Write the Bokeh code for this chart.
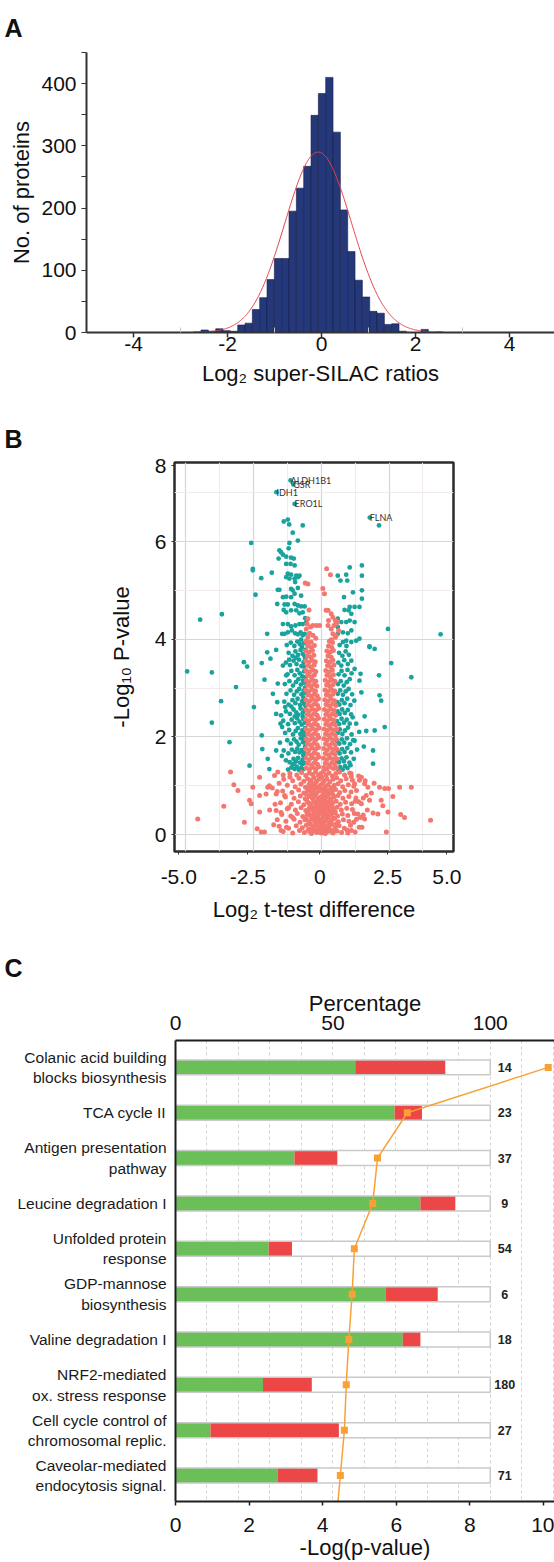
import math
import numpy as np
from bokeh.plotting import figure
from bokeh.models import Range1d, FixedTicker, LinearAxis, Label
from bokeh.embed import file_html
from bokeh.resources import INLINE
from bokeh.core.properties import value

FONT = "Liberation Sans"

# ---------------- Panel A: histogram ----------------
hist_centers = [-2.641, -2.485, -2.329, -2.173, -2.017, -1.861, -1.705, -1.549, -1.393, -1.237,
                -1.081, -0.925, -0.769, -0.613, -0.457, -0.301, -0.145, 0.011, 0.167, 0.323,
                0.479, 0.635, 0.791, 0.947, 1.103, 1.259, 1.415, 1.571, 1.727, 1.883,
                2.039, 2.195, 2.351, 2.507]
hist_counts = [1, 4, 2, 6, 3, 2, 12, 15, 37, 56,
               85, 119, 119, 195, 232, 267, 349, 384, 410, 322,
               197, 130, 84, 57, 34, 31, 13, 14, 2, 0,
               0, 5, 0, 1]
hist_bin_width = 0.156
fit_mean = -0.07
fit_sd = 0.71
fit_peak = 290

# ---------------- Panel B: volcano ----------------
teal_points = [
    (-1.13, 7.25), (-1.03, 7.17), (-1.65, 7.01), (-0.98, 6.77), (1.79, 6.49), (2.13, 6.33),
    (-1.38, 6.41), (-1.23, 6.45), (-1.18, 6.35), (-1.05, 6.18), (-0.68, 6.33), (-0.86, 6.02),
    (-2.58, 5.97), (-1.17, 5.97), (-1.54, 5.82), (-1.48, 5.78), (-1.20, 5.86), (-1.41, 5.73),
    (-1.29, 5.69), (-1.57, 5.65), (-1.11, 5.67), (-1.01, 5.65), (-1.13, 5.54), (-0.98, 5.51),
    (-1.29, 5.54), (-1.82, 5.36), (-2.52, 5.44), (-2.52, 5.41), (-2.21, 5.25), (-1.23, 5.34),
    (-1.11, 5.32), (-0.92, 5.30), (-0.80, 5.30), (-0.86, 5.27), (-0.98, 5.24), (-1.17, 5.24),
    (-1.29, 5.27), (-0.96, 5.17), (-1.60, 5.01), (-1.54, 5.01), (-1.11, 5.03), (-1.05, 5.00),
    (-0.86, 5.05), (-2.42, 4.91), (-1.41, 4.86), (-1.29, 4.87), (-1.11, 4.86), (-0.98, 4.93),
    (-0.74, 4.89), (-1.62, 4.72), (-1.35, 4.71), (-1.23, 4.71), (-0.98, 4.72), (-0.86, 4.69),
    (-0.74, 4.67), (-0.61, 4.67), (-1.38, 4.60), (-1.29, 4.55), (-1.11, 4.59), (-0.92, 4.59),
    (-0.80, 4.53), (-0.68, 4.55), (-0.59, 4.43), (-1.41, 4.31), (-1.23, 4.31), (-1.11, 4.26),
    (-0.95, 4.28), (-0.80, 4.31), (-0.68, 4.31), (-0.55, 4.35), (-1.44, 4.11), (-1.35, 4.11),
    (-1.23, 4.14), (-1.08, 4.18), (-0.96, 4.12), (-0.86, 4.10), (-0.76, 4.14), (-0.68, 4.08),
    (-0.61, 4.11), (-1.99, 4.11), (-4.46, 4.40), (-3.66, 4.51),
    (1.05, 5.47), (1.50, 5.51), (0.61, 5.30), (0.71, 5.20), (0.92, 5.32), (0.96, 5.20),
    (1.50, 5.30), (0.84, 4.86), (1.17, 4.96), (1.50, 5.00), (1.50, 4.83), (1.05, 4.66),
    (1.23, 4.66), (1.41, 4.66), (0.86, 4.60), (1.01, 4.59), (1.11, 4.52), (0.61, 4.42),
    (0.74, 4.35), (0.92, 4.35), (1.05, 4.38), (1.23, 4.35), (0.61, 4.25), (0.80, 4.14),
    (0.98, 4.12), (1.11, 4.18), (0.61, 4.11), (0.92, 3.97), (1.11, 3.94), (1.29, 3.97),
    (1.41, 4.01), (2.46, 4.21), (1.78, 3.84), (4.40, 4.10),
    (-4.94, 3.34), (-4.03, 3.32), (-3.69, 2.73), (-4.03, 2.29), (-3.38, 1.89), (-3.14, 3.02),
    (-2.85, 3.53), (-2.73, 3.44), (-2.48, 2.61), (-2.19, 3.51), (-2.09, 3.17), (-1.99, 3.73),
    (-1.87, 3.60), (-1.66, 3.78), (-2.64, 1.41), (-2.19, 2.03), (-2.17, 1.75), (-1.97, 1.55),
    (-1.66, 1.72), (-1.91, 1.34), (-1.60, 3.09), (-1.78, 2.88), (-1.62, 2.71), (-1.66, 2.47),
    (-1.50, 2.27), (-1.33, 2.61), (-1.29, 3.26), (-1.41, 3.46),
    (1.78, 3.85), (1.97, 3.80), (2.58, 3.51), (2.13, 3.26), (3.32, 3.22), (2.15, 2.85),
    (2.21, 2.74), (1.60, 2.42), (2.34, 2.20), (1.66, 2.12), (1.97, 2.13), (1.57, 1.80),
    (1.91, 1.72), (1.91, 1.45), (1.23, 1.92), (1.29, 2.27), (1.48, 2.91), (1.41, 3.15),
    (1.45, 3.29), (1.23, 3.39), (1.11, 3.56),
    (-1.22, 1.33), (-1.10, 1.37), (-0.98, 1.34), (-0.90, 1.39), (-0.82, 1.32), (-0.74, 1.36),
    (-0.66, 1.34), (-1.05, 1.43), (-0.70, 1.44), (-1.30, 1.52), (-1.16, 1.48), (-1.02, 1.55),
    (-0.93, 1.50), (-0.85, 1.57), (-0.78, 1.47), (-0.69, 1.53), (-0.62, 1.58), (-1.45, 1.61),
    (-1.38, 1.72), (-1.21, 1.66), (-1.08, 1.74), (-0.96, 1.69), (-0.88, 1.76), (-0.80, 1.68),
    (-0.72, 1.73), (-0.64, 1.67), (-0.60, 1.79), (-1.52, 1.88), (-1.25, 1.93), (-1.12, 1.86),
    (-1.00, 1.95), (-0.91, 1.90), (-0.83, 1.84), (-0.75, 1.97), (-0.67, 1.89), (-0.61, 1.94),
    (-1.33, 2.08), (-1.18, 2.14), (-1.04, 2.05), (-0.94, 2.12), (-0.86, 2.18), (-0.77, 2.06),
    (-0.70, 2.13), (-0.63, 2.09), (-1.44, 2.20), (-1.40, 2.33), (-1.22, 2.26), (-1.09, 2.35),
    (-0.97, 2.28), (-0.89, 2.38), (-0.80, 2.31), (-0.72, 2.25), (-0.65, 2.36), (-0.60, 2.29),
    (-1.30, 2.52), (-1.15, 2.47), (-1.02, 2.56), (-0.92, 2.50), (-0.84, 2.45), (-0.76, 2.58),
    (-0.68, 2.49), (-0.61, 2.54), (-1.48, 2.44), (-1.36, 2.72), (-1.20, 2.66), (-1.06, 2.75),
    (-0.95, 2.69), (-0.87, 2.78), (-0.78, 2.65), (-0.70, 2.73), (-0.63, 2.68), (-1.28, 2.88),
    (-1.13, 2.95), (-1.00, 2.86), (-0.90, 2.93), (-0.81, 2.98), (-0.73, 2.87), (-0.65, 2.94),
    (-0.59, 2.90), (-1.34, 3.08), (-1.17, 3.14), (-1.04, 3.05), (-0.93, 3.12), (-0.84, 3.18),
    (-0.75, 3.07), (-0.67, 3.15), (-0.60, 3.10), (-1.24, 3.28), (-1.10, 3.35), (-0.98, 3.26),
    (-0.88, 3.37), (-0.79, 3.30), (-0.70, 3.24), (-0.63, 3.34), (-1.30, 3.52), (-1.15, 3.47),
    (-1.02, 3.56), (-0.91, 3.49), (-0.82, 3.58), (-0.73, 3.45), (-0.65, 3.53), (-0.59, 3.60),
    (-1.20, 3.72), (-1.06, 3.66), (-0.95, 3.75), (-0.85, 3.68), (-0.76, 3.78), (-0.68, 3.70),
    (-0.61, 3.65), (-1.27, 3.88), (-1.12, 3.93), (-0.99, 3.86), (-0.88, 3.95), (-0.79, 3.90),
    (-0.71, 3.84), (-0.63, 3.92),
    (-0.62, 1.46), (-0.66, 1.62), (-0.58, 1.86), (-0.63, 2.02), (-0.59, 2.18), (-0.68, 2.41),
    (-0.58, 2.63), (-0.66, 2.81), (-0.60, 3.00), (-0.57, 3.22), (-0.64, 3.44), (-0.58, 3.78),
    (-0.74, 3.99), (-1.00, 1.45), (-0.97, 2.42), (-1.10, 2.62), (-0.93, 3.62), (-1.18, 3.58),
    (0.62, 1.34), (0.70, 1.38), (0.79, 1.33), (0.88, 1.40), (0.97, 1.36), (1.08, 1.42),
    (0.58, 1.52), (0.66, 1.48), (0.75, 1.56), (0.84, 1.50), (0.93, 1.58), (1.04, 1.47),
    (1.20, 1.55), (0.60, 1.72), (0.68, 1.66), (0.77, 1.75), (0.86, 1.69), (0.96, 1.77),
    (1.10, 1.68), (1.32, 1.74), (0.59, 1.91), (0.67, 1.86), (0.76, 1.95), (0.85, 1.88),
    (0.95, 1.97), (1.06, 1.85), (1.18, 1.93), (0.61, 2.08), (0.69, 2.15), (0.78, 2.06),
    (0.88, 2.13), (0.99, 2.19), (1.12, 2.05), (1.40, 2.10), (0.58, 2.32), (0.66, 2.26),
    (0.75, 2.37), (0.84, 2.29), (0.94, 2.35), (1.05, 2.27), (1.16, 2.40), (0.60, 2.52),
    (0.68, 2.47), (0.77, 2.56), (0.87, 2.49), (0.98, 2.55), (1.10, 2.46), (0.59, 2.71),
    (0.67, 2.66), (0.76, 2.75), (0.86, 2.69), (0.96, 2.78), (1.08, 2.65), (1.22, 2.74),
    (0.61, 2.88), (0.70, 2.95), (0.80, 2.86), (0.90, 2.93), (1.01, 2.98), (1.14, 2.87),
    (0.62, 3.08), (0.72, 3.14), (0.83, 3.05), (0.94, 3.12), (1.05, 3.18), (0.64, 3.28),
    (0.75, 3.35), (0.86, 3.26), (0.97, 3.37), (1.12, 3.30), (0.63, 3.52), (0.74, 3.46),
    (0.85, 3.57), (0.98, 3.49), (0.66, 3.72), (0.78, 3.66), (0.90, 3.75), (1.02, 3.68),
    (0.68, 3.88), (0.80, 3.94), (0.93, 3.86),
]

salmon_points = [
    (0.20, 5.44), (0.34, 5.32), (-0.59, 5.15), (-0.49, 5.13), (0.06, 5.04), (0.12, 4.93),
    (0.25, 4.59), (0.37, 4.52), (0.43, 4.45), (0.52, 4.38), (0.47, 4.28), (0.25, 4.28),
    (0.37, 4.21), (0.55, 4.31), (-0.49, 4.42), (-0.52, 4.31), (-0.55, 4.21), (-0.39, 4.25),
    (-0.31, 4.28), (-0.18, 4.28), (-0.06, 4.28), (-0.43, 4.12), (-0.31, 4.08), (-0.49, 4.04),
    (0.43, 4.11), (0.52, 4.04), (0.37, 3.99), (-0.55, 3.97), (-0.37, 3.94), (0.18, 4.59),
    (0.27, 4.38), (0.59, 4.35), (0.64, 4.18), (0.55, 4.07), (-0.20, 4.02), (-0.45, 4.60),
    (-0.55, 1.36), (-0.43, 1.33), (-0.31, 1.37), (-0.19, 1.34), (-0.09, 1.38),
    (-0.50, 1.46), (-0.37, 1.43), (-0.25, 1.47), (-0.14, 1.44),
    (-0.56, 1.56), (-0.44, 1.53), (-0.32, 1.57), (-0.20, 1.54), (-0.09, 1.58),
    (-0.49, 1.66), (-0.38, 1.63), (-0.26, 1.67), (-0.13, 1.64),
    (-0.57, 1.76), (-0.45, 1.73), (-0.33, 1.77), (-0.21, 1.74), (-0.10, 1.78),
    (-0.51, 1.86), (-0.39, 1.83), (-0.27, 1.87), (-0.15, 1.84),
    (-0.55, 1.96), (-0.44, 1.93), (-0.32, 1.97), (-0.20, 1.94), (-0.09, 1.98),
    (-0.50, 2.06), (-0.37, 2.03), (-0.25, 2.07), (-0.13, 2.04),
    (-0.56, 2.16), (-0.43, 2.13), (-0.31, 2.17), (-0.19, 2.14), (-0.08, 2.18),
    (-0.49, 2.26), (-0.38, 2.23), (-0.26, 2.27), (-0.14, 2.24),
    (-0.57, 2.36), (-0.45, 2.33), (-0.33, 2.37), (-0.21, 2.34), (-0.10, 2.38),
    (-0.51, 2.46), (-0.39, 2.43), (-0.27, 2.47), (-0.15, 2.44),
    (-0.55, 2.56), (-0.44, 2.53), (-0.32, 2.57), (-0.20, 2.54), (-0.09, 2.58),
    (-0.50, 2.66), (-0.37, 2.63), (-0.25, 2.67), (-0.13, 2.64),
    (-0.56, 2.76), (-0.43, 2.73), (-0.31, 2.77), (-0.19, 2.74), (-0.10, 2.78),
    (-0.49, 2.86), (-0.38, 2.83), (-0.26, 2.87), (-0.15, 2.84),
    (-0.57, 2.96), (-0.45, 2.93), (-0.33, 2.97), (-0.21, 2.94),
    (-0.51, 3.06), (-0.39, 3.03), (-0.27, 3.07), (-0.16, 3.04),
    (-0.55, 3.16), (-0.44, 3.13), (-0.32, 3.17), (-0.20, 3.14),
    (-0.50, 3.26), (-0.37, 3.23), (-0.25, 3.27),
    (-0.56, 3.36), (-0.43, 3.33), (-0.31, 3.37), (-0.20, 3.34),
    (-0.49, 3.46), (-0.38, 3.43), (-0.26, 3.47),
    (-0.57, 3.56), (-0.45, 3.53), (-0.33, 3.57), (-0.22, 3.54),
    (-0.51, 3.66), (-0.39, 3.63), (-0.27, 3.67),
    (-0.55, 3.76), (-0.44, 3.73), (-0.32, 3.77),
    (-0.50, 3.86), (-0.37, 3.83), (-0.25, 3.87),
    (-0.56, 3.96), (-0.43, 3.93),
    (0.10, 1.37), (0.21, 1.34), (0.33, 1.38), (0.45, 1.35), (0.56, 1.36),
    (0.15, 1.46), (0.27, 1.43), (0.39, 1.47), (0.51, 1.44),
    (0.09, 1.56), (0.21, 1.53), (0.33, 1.57), (0.45, 1.54), (0.57, 1.55),
    (0.15, 1.66), (0.27, 1.63), (0.39, 1.67), (0.51, 1.64),
    (0.10, 1.76), (0.22, 1.73), (0.34, 1.77), (0.46, 1.74), (0.57, 1.75),
    (0.16, 1.86), (0.28, 1.83), (0.40, 1.87), (0.52, 1.84),
    (0.11, 1.96), (0.22, 1.93), (0.34, 1.97), (0.46, 1.94), (0.56, 1.95),
    (0.16, 2.06), (0.28, 2.03), (0.40, 2.07), (0.52, 2.04),
    (0.11, 2.16), (0.23, 2.13), (0.35, 2.17), (0.47, 2.14), (0.57, 2.15),
    (0.17, 2.26), (0.29, 2.23), (0.41, 2.27), (0.53, 2.24),
    (0.12, 2.36), (0.23, 2.33), (0.35, 2.37), (0.47, 2.34),
    (0.17, 2.46), (0.29, 2.43), (0.41, 2.47), (0.53, 2.44),
    (0.12, 2.56), (0.24, 2.53), (0.36, 2.57), (0.48, 2.54),
    (0.18, 2.66), (0.30, 2.63), (0.42, 2.67), (0.54, 2.64),
    (0.13, 2.76), (0.25, 2.73), (0.37, 2.77), (0.49, 2.74),
    (0.19, 2.86), (0.31, 2.83), (0.43, 2.87),
    (0.14, 2.96), (0.26, 2.93), (0.38, 2.97), (0.50, 2.94),
    (0.20, 3.06), (0.32, 3.03), (0.44, 3.07),
    (0.15, 3.16), (0.27, 3.13), (0.39, 3.17), (0.51, 3.14),
    (0.21, 3.26), (0.33, 3.23), (0.45, 3.27),
    (0.17, 3.36), (0.29, 3.33), (0.41, 3.37),
    (0.23, 3.46), (0.35, 3.43), (0.47, 3.47),
    (0.19, 3.56), (0.31, 3.53), (0.43, 3.57),
    (0.25, 3.66), (0.37, 3.63),
    (0.21, 3.76), (0.33, 3.73), (0.45, 3.77),
    (0.27, 3.86), (0.39, 3.83),
    (0.30, 3.96), (0.42, 3.93),
    (-1.40, 0.06), (-1.05, 0.03), (-0.80, 0.08), (-0.62, 0.04), (-0.48, 0.09), (-0.36, 0.02),
    (-0.25, 0.07), (-0.16, 0.04), (-0.08, 0.10), (0.00, 0.03), (0.07, 0.08), (0.15, 0.02),
    (0.24, 0.06), (0.33, 0.09), (0.44, 0.03), (0.58, 0.07), (0.75, 0.04), (0.95, 0.09), (1.25, 0.05),
    (-1.55, 0.17), (-1.20, 0.13), (-0.92, 0.18), (-0.70, 0.14), (-0.55, 0.19), (-0.42, 0.12),
    (-0.31, 0.16), (-0.21, 0.20), (-0.12, 0.13), (-0.04, 0.17), (0.04, 0.14), (0.12, 0.19),
    (0.20, 0.12), (0.29, 0.17), (0.39, 0.21), (0.51, 0.14), (0.66, 0.18), (0.85, 0.13),
    (1.08, 0.19), (1.40, 0.15),
    (-1.30, 0.27), (-1.00, 0.31), (-0.78, 0.25), (-0.60, 0.30), (-0.46, 0.26), (-0.35, 0.32),
    (-0.24, 0.27), (-0.14, 0.29), (-0.05, 0.25), (0.03, 0.31), (0.11, 0.26), (0.19, 0.30),
    (0.28, 0.24), (0.38, 0.29), (0.49, 0.33), (0.63, 0.26), (0.82, 0.30), (1.02, 0.27), (1.30, 0.31),
    (-1.45, 0.41), (-1.12, 0.38), (-0.88, 0.43), (-0.68, 0.37), (-0.52, 0.42), (-0.40, 0.39),
    (-0.28, 0.44), (-0.18, 0.37), (-0.09, 0.41), (0.00, 0.45), (0.08, 0.38), (0.17, 0.42),
    (0.26, 0.36), (0.36, 0.41), (0.47, 0.44), (0.60, 0.38), (0.78, 0.42), (0.98, 0.39),
    (1.22, 0.43), (1.55, 0.40),
    (-1.25, 0.53), (-0.95, 0.50), (-0.74, 0.55), (-0.57, 0.49), (-0.44, 0.54), (-0.32, 0.51),
    (-0.21, 0.56), (-0.11, 0.49), (-0.02, 0.53), (0.06, 0.57), (0.15, 0.50), (0.24, 0.54),
    (0.34, 0.48), (0.45, 0.53), (0.58, 0.56), (0.74, 0.50), (0.94, 0.54), (1.15, 0.51),
    (-1.50, 0.65), (-1.10, 0.62), (-0.84, 0.67), (-0.64, 0.61), (-0.49, 0.66), (-0.37, 0.63),
    (-0.26, 0.68), (-0.15, 0.61), (-0.06, 0.65), (0.03, 0.69), (0.12, 0.62), (0.21, 0.66),
    (0.31, 0.60), (0.42, 0.65), (0.55, 0.68), (0.70, 0.62), (0.90, 0.66), (1.12, 0.63), (1.38, 0.67),
    (-1.32, 0.77), (-1.00, 0.74), (-0.77, 0.79), (-0.59, 0.73), (-0.45, 0.78), (-0.33, 0.75),
    (-0.22, 0.80), (-0.12, 0.73), (-0.03, 0.77), (0.06, 0.81), (0.15, 0.74), (0.25, 0.78),
    (0.36, 0.72), (0.48, 0.77), (0.62, 0.80), (0.80, 0.74), (1.02, 0.78), (1.28, 0.75),
    (-1.42, 0.89), (-1.08, 0.86), (-0.83, 0.91), (-0.64, 0.85), (-0.50, 0.90), (-0.38, 0.87),
    (-0.27, 0.92), (-0.17, 0.85), (-0.08, 0.89), (0.01, 0.93), (0.10, 0.86), (0.19, 0.90),
    (0.29, 0.84), (0.40, 0.89), (0.53, 0.92), (0.68, 0.86), (0.87, 0.90), (1.10, 0.87),
    (-1.25, 1.01), (-0.96, 0.98), (-0.75, 1.03), (-0.58, 0.97), (-0.45, 1.02), (-0.33, 0.99),
    (-0.22, 1.04), (-0.12, 0.97), (-0.03, 1.01), (0.06, 1.05), (0.15, 0.98), (0.25, 1.02),
    (0.36, 0.96), (0.48, 1.01), (0.62, 1.04), (0.79, 0.98), (1.00, 1.02), (1.20, 0.99),
    (-1.38, 1.13), (-1.05, 1.10), (-0.82, 1.15), (-0.64, 1.09), (-0.50, 1.14), (-0.38, 1.11),
    (-0.27, 1.16), (-0.17, 1.09), (-0.08, 1.13), (0.02, 1.17), (0.11, 1.10), (0.21, 1.14),
    (0.32, 1.08), (0.44, 1.13), (0.57, 1.16), (0.72, 1.10), (0.92, 1.14), (1.15, 1.11),
    (-1.15, 1.25), (-0.90, 1.22), (-0.72, 1.27), (-0.57, 1.21), (-0.44, 1.26), (-0.32, 1.23),
    (-0.21, 1.28), (-0.11, 1.21), (-0.02, 1.25), (0.08, 1.29), (0.18, 1.22), (0.29, 1.26),
    (0.41, 1.20), (0.54, 1.25), (0.68, 1.28), (0.86, 1.22), (1.05, 1.26),
    (-0.43, 0.06), (-0.30, 0.12), (-0.19, 0.09), (-0.10, 0.15), (0.05, 0.11), (0.18, 0.08),
    (0.28, 0.13), (0.38, 0.06), (0.50, 0.11), (-0.55, 0.33), (-0.40, 0.22), (-0.29, 0.36),
    (-0.18, 0.24), (-0.08, 0.33), (0.08, 0.22), (0.22, 0.35), (0.33, 0.23), (0.44, 0.34),
    (0.56, 0.22), (-0.47, 0.47), (-0.35, 0.57), (-0.24, 0.46), (-0.14, 0.57), (-0.04, 0.46),
    (0.10, 0.47), (0.20, 0.58), (0.30, 0.45), (0.40, 0.57), (0.52, 0.46), (-0.54, 0.71),
    (-0.42, 0.61), (-0.30, 0.72), (-0.19, 0.64), (-0.09, 0.72), (0.01, 0.61), (0.10, 0.71),
    (0.19, 0.82), (0.30, 0.68), (0.43, 0.82), (-0.55, 0.83), (-0.43, 0.94), (-0.32, 0.83),
    (-0.20, 0.96), (0.14, 0.94), (0.34, 0.92), (0.46, 0.95), (-0.41, 1.06), (-0.28, 1.04),
    (-1.80, 0.95), (-1.70, 0.62), (-1.62, 0.30), (-1.55, 1.05), (-1.48, 0.45), (-1.35, 0.80),
    (-1.28, 0.15), (-1.20, 0.55), (-1.15, 1.18), (-1.75, 0.20), (-1.90, 0.50), (-1.62, 0.88),
    (-1.40, 1.22), (-1.05, 0.35), (1.30, 0.90), (1.45, 0.35), (1.55, 0.75), (1.62, 1.10),
    (1.70, 0.50), (1.38, 1.20), (1.20, 0.25), (1.85, 0.85), (1.50, 0.15), (1.95, 1.05),
    (1.25, 0.68), (1.10, 1.25),
    (-4.55, 0.32), (-3.59, 0.58), (-3.34, 1.28), (-3.22, 1.02), (-3.07, 0.90), (-2.83, 0.25),
    (-2.64, 0.70), (-2.58, 0.63), (-2.52, 0.97), (-2.36, 0.12), (-2.27, 1.17), (-2.27, 0.80),
    (-2.27, 0.46), (-2.21, 0.05), (-2.09, 0.05), (-2.03, 0.83), (-1.97, 0.97), (-1.91, 1.00),
    (-1.72, 1.21), (-1.66, 0.83), (-1.60, 1.28), (-1.66, 0.49), (-1.48, 0.08),
    (2.15, 0.97), (2.34, 0.94), (2.48, 0.94), (2.64, 0.78), (2.89, 0.97), (3.32, 0.97),
    (2.21, 0.70), (2.27, 0.59), (2.46, 0.46), (2.40, 0.05), (2.93, 0.41), (3.07, 0.35),
    (4.03, 0.29), (1.91, 0.44), (2.09, 0.42), (1.72, 0.97), (1.60, 1.04), (1.48, 1.17),
    (1.41, 1.11), (1.11, 1.19), (1.23, 1.04), (1.66, 0.80), (1.78, 0.70), (1.48, 0.63),
    (1.35, 0.42), (1.60, 0.32), (1.11, 0.08), (0.98, 0.03),
]

gene_names = ["ALDH1B1", "GSR", "IDH1", "ERO1L", "FLNA"]
gene_x = [-1.13, -1.03, -1.65, -0.98, 1.79]
gene_y = [7.25, 7.17, 7.01, 6.77, 6.49]

# ---------------- Panel C: pathways ----------------
pathways = ["Colanic acid building\nblocks biosynthesis", "TCA cycle II",
            "Antigen presentation\npathway", "Leucine degradation I",
            "Unfolded protein\nresponse", "GDP-mannose\nbiosynthesis",
            "Valine degradation I", "NRF2-mediated\nox. stress response",
            "Cell cycle control of\nchromosomal replic.", "Caveolar-mediated\nendocytosis signal."]
green_pct = [57.1, 69.6, 37.8, 77.8, 29.6, 66.7, 72.2, 27.8, 11.1, 32.4]
red_end_pct = [85.7, 78.3, 51.4, 88.9, 37.0, 83.3, 77.8, 43.3, 51.9, 45.1]
gene_counts = [14, 23, 37, 9, 54, 6, 18, 180, 27, 71]
neg_log_p = [10.13, 6.30, 5.49, 5.36, 4.86, 4.80, 4.71, 4.64, 4.59, 4.48]
next_row_neg_log_p = 4.37

W = 554


def tick_font(ax, size="21px"):
    ax.major_label_text_font = FONT
    ax.major_label_text_font_size = size
    ax.major_label_text_color = "#111111"


def axis_title(ax, text, size="22px", standoff=5):
    ax.axis_label = text
    ax.axis_label_text_font = FONT
    ax.axis_label_text_font_size = size
    ax.axis_label_text_font_style = "normal"
    ax.axis_label_text_color = "#111111"
    ax.axis_label_standoff = standoff


def panel_letter(p, letter, offset, standoff):
    p.title.text = letter
    p.title.text_font = FONT
    p.title.text_font_size = "25px"
    p.title.text_font_style = "bold"
    p.title.text_color = "#111111"
    p.title.align = "left"
    p.title.offset = offset
    p.title.standoff = standoff


# ================= Panel A =================
pA = figure(width=W, height=408, x_range=Range1d(-5.0, 4.957), y_range=Range1d(0, 450),
            output_backend="svg", toolbar_location=None,
            min_border_left=86, min_border_right=0, min_border_top=52, min_border_bottom=76)
pA.outline_line_color = None
pA.xgrid.visible = False
pA.ygrid.visible = False
pA.vbar(x=hist_centers, top=hist_counts, width=hist_bin_width, bottom=0,
        fill_color="#24387a", line_color="#151d45", line_width=0.6)
fx = np.linspace(-2.7, 2.55, 400)
fy = fit_peak * np.exp(-0.5 * ((fx - fit_mean) / fit_sd) ** 2)
pA.line(fx, fy, line_color="#e5414b", line_width=1)

xa = pA.xaxis[0]
xa.ticker = FixedTicker(ticks=[-4, -2, 0, 2, 4], minor_ticks=[-3, -1, 1, 3])
xa.major_label_overrides = {-4: "-4", -2: "-2", 0: "0", 2: "2", 4: "4"}
xa.axis_line_color = "#333333"
xa.axis_line_width = 2
xa.major_tick_out = 5
xa.major_tick_in = 0
xa.major_tick_line_color = "#333333"
xa.major_tick_line_width = 1.5
xa.minor_tick_in = 5
xa.minor_tick_out = 0
xa.minor_tick_line_color = "#c4c4c4"
xa.major_label_standoff = -1
tick_font(xa)
axis_title(xa, "Log\u2082 super-SILAC ratios", standoff=7)
ya = pA.yaxis[0]
ya.ticker = FixedTicker(ticks=[0, 100, 200, 300, 400], minor_ticks=[50, 150, 250, 350, 450])
ya.axis_line_color = "#333333"
ya.axis_line_width = 2
ya.major_tick_out = 5
ya.major_tick_in = 0
ya.minor_tick_out = 5
ya.minor_tick_in = 0
ya.major_tick_line_color = "#333333"
ya.minor_tick_line_color = "#333333"
ya.major_label_standoff = 5
tick_font(ya)
axis_title(ya, "No. of proteins", standoff=4)
panel_letter(pA, "A", -82, 22)

# ================= Panel B =================
pB = figure(width=W, height=522, x_range=Range1d(-5.406, 4.875), y_range=Range1d(-0.348, 7.618),
            output_backend="svg", toolbar_location=None,
            min_border_left=174, min_border_right=101, min_border_top=54, min_border_bottom=79)
pB.outline_line_color = "#2b2b2b"
pB.outline_line_width = 2.5
pB.xgrid.ticker = FixedTicker(ticks=[-5, -2.5, 0, 2.5, 5], minor_ticks=[-3.75, -1.25, 1.25, 3.75])
pB.ygrid.ticker = FixedTicker(ticks=[0, 2, 4, 6], minor_ticks=[1, 3, 5, 7])
for g in (pB.xgrid[0], pB.ygrid[0]):
    g.grid_line_color = "#d6d6d6"
    g.grid_line_width = 1.2
    g.minor_grid_line_color = "#f3eaea"
    g.minor_grid_line_width = 1

teal_x = [p[0] for p in teal_points]
teal_y = [p[1] for p in teal_points]
salmon_x = [p[0] for p in salmon_points]
salmon_y = [p[1] for p in salmon_points]
pB.scatter(teal_x, teal_y, size=4.8, fill_color="#1aa39c", line_color=None)
pB.scatter(salmon_x, salmon_y, size=5, fill_color="#f4776f", line_color=None)
pB.text(x=gene_x, y=gene_y, text=gene_names, text_font=value("Lato"), text_font_size="9px",
        text_color="#333333", text_align="left", text_baseline="middle")

bx = pB.xaxis[0]
bx.ticker = FixedTicker(ticks=[-5.25, -2.7, -0.05, 2.45, 4.63])
bx.major_label_overrides = {-5.25: "-5.0", -2.7: "-2.5", -0.05: "0", 2.45: "2.5", 4.63: "5.0"}
by = pB.yaxis[0]
by.ticker = FixedTicker(ticks=[0, 2, 4, 6, 7.55])
by.major_label_overrides = {0: "0", 2: "2", 4: "4", 6: "6", 7.55: "8"}
for ax in (bx, by):
    ax.axis_line_color = None
    ax.major_tick_out = 3
    ax.major_tick_in = 0
    ax.major_tick_line_color = "#333333"
    ax.minor_tick_line_color = None
    tick_font(ax)
bx.major_label_standoff = 15
by.major_label_standoff = 5
axis_title(bx, "Log\u2082 t-test difference", standoff=10)
axis_title(by, "-Log\u2081\u2080 P-value", standoff=18)
panel_letter(pB, "B", -170, 20)

# ================= Panel C =================
LOG_MAX = 10.30
PCT_MAX = 120.4
pC = figure(width=W, height=632, x_range=Range1d(0, LOG_MAX), y_range=Range1d(10.572, 0.4072),
            output_backend="svg", toolbar_location=None,
            min_border_left=175, min_border_right=0, min_border_top=110, min_border_bottom=59)
pC.extra_x_ranges = {"pct": Range1d(0, PCT_MAX)}
pC.outline_line_color = None
pC.ygrid.visible = False
pct_grid = [10, 20, 30, 40, 50, 60, 70, 80, 90, 100, 110, 120]
pC.xgrid.ticker = FixedTicker(ticks=[g * LOG_MAX / PCT_MAX for g in pct_grid])
pC.xgrid.grid_line_color = "#d2d2d2"
pC.xgrid.grid_line_dash = "3 3"
pC.xgrid.grid_line_width = 1

rows = list(range(1, len(pathways) + 1))
pC.hbar(y=rows, left=0, right=100, height=0.33, x_range_name="pct",
        fill_color="white", line_color=None)
pC.hbar(y=rows, left=0, right=green_pct, height=0.33, x_range_name="pct",
        fill_color="#6abf58", line_color=None)
pC.hbar(y=rows, left=green_pct, right=red_end_pct, height=0.33, x_range_name="pct",
        fill_color="#ec4646", line_color=None)
pC.hbar(y=rows, left=0, right=100, height=0.33, x_range_name="pct",
        fill_alpha=0, line_color="#c9c9c9", line_width=1.5)

line_x = neg_log_p + [next_row_neg_log_p]
line_y = rows + [len(rows) + 1]
pC.line(line_x, line_y, line_color="#f7a136", line_width=1.5)
pC.scatter(neg_log_p, rows, marker="square", size=7, fill_color="#f7a136", line_color=None)

for r, n in zip(rows, gene_counts):
    pC.add_layout(Label(x=104.6, y=r, x_range_name="pct", text=str(n), text_font=FONT,
                        text_font_size="12.5px", text_font_style="bold", text_color="#222222",
                        text_align="center", text_baseline="middle"))

cx = pC.xaxis[0]
cx.ticker = FixedTicker(ticks=[0, 2, 4, 6, 8, 10])
cx.axis_line_color = "#1e1e1e"
cx.axis_line_width = 2
cx.major_tick_out = 4
cx.major_tick_in = 0
cx.major_tick_line_color = "#1e1e1e"
cx.major_tick_line_width = 1.5
cx.minor_tick_line_color = None
cx.major_label_standoff = 12
tick_font(cx)
axis_title(cx, "-Log(p-value)", size="22px", standoff=0)

top = LinearAxis(x_range_name="pct", ticker=FixedTicker(ticks=[0, 50, 100]))
top.axis_line_color = "#1e1e1e"
top.axis_line_width = 2
top.major_tick_line_color = None
top.minor_tick_line_color = None
top.major_tick_out = 0
top.major_tick_in = 0
top.major_label_standoff = 11
tick_font(top)
axis_title(top, "Percentage", standoff=-3)
pC.add_layout(top, "above")

cy = pC.yaxis[0]
cy.ticker = FixedTicker(ticks=rows)
cy.major_label_overrides = {r: name for r, name in zip(rows, pathways)}
cy.axis_line_color = "#1e1e1e"
cy.axis_line_width = 2
cy.major_tick_line_color = None
cy.minor_tick_line_color = None
cy.major_tick_out = 0
cy.major_tick_in = 0
cy.major_label_standoff = 9
cy.major_label_text_font = FONT
cy.major_label_text_font_size = "15.5px"
cy.major_label_text_color = "#1a1a1a"
panel_letter(pC, "C", -171, 12)

for p in (pA, pB, pC):
    p.background_fill_color = "white"
    p.border_fill_color = "white"

open("out.html", "w").write(file_html([pA, pB, pC], INLINE))
